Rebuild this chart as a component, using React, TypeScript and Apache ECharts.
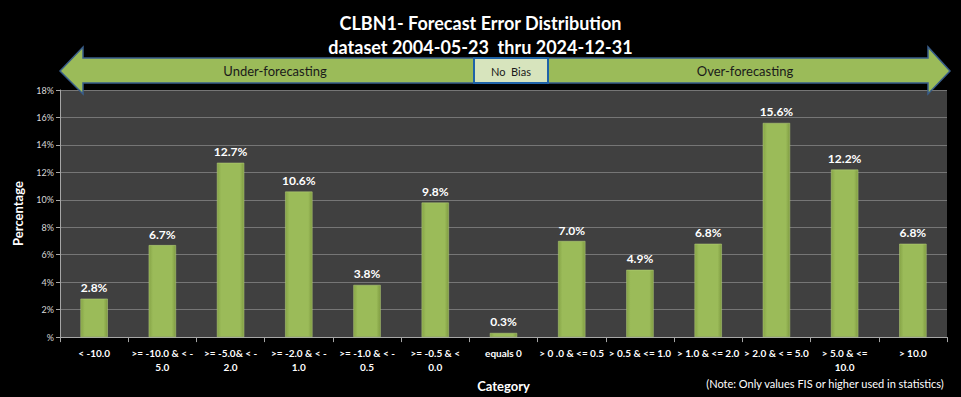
import React, { useEffect, useRef } from "react";
import * as echarts from "echarts";

const categories = [
  "< -10.0",
  ">= -10.0 & < -\n5.0",
  ">= -5.0& < -\n2.0",
  ">= -2.0 & < -\n1.0",
  ">= -1.0 & < -\n0.5",
  ">= -0.5 & <\n0.0",
  "equals 0",
  "> 0 .0 & <= 0.5",
  "> 0.5 & <= 1.0",
  "> 1.0 & <= 2.0",
  "> 2.0 & < = 5.0",
  "> 5.0 & <=\n10.0",
  "> 10.0",
];
const percentages = [2.8, 6.7, 12.7, 10.6, 3.8, 9.8, 0.3, 7.0, 4.9, 6.8, 15.6, 12.2, 6.8];
const titleLines = ["CLBN1- Forecast Error Distribution", "dataset 2004-05-23  thru 2024-12-31"];
const bandLabels = ["Under-forecasting", "No  Bias", "Over-forecasting"];
const noteText = "(Note: Only values FIS or higher used in statistics)";

const FONT = "Lato, 'Liberation Sans', Arial, sans-serif";

export default function App() {
  const ref = useRef<HTMLDivElement>(null);
  useEffect(() => {
    if (!ref.current) return;
    const chart = echarts.init(ref.current, undefined, { renderer: "svg" });
    chart.setOption({
      animation: false,
      backgroundColor: "#000000",
      title: {
        text: titleLines.join("\n"),
        left: "center",
        top: 11,
        padding: 0,
        textStyle: {
          color: "#ffffff",
          fontFamily: FONT,
          fontWeight: "bold",
          fontSize: 18,
          lineHeight: 24,
        },
      },
      grid: { left: 60, right: 14, top: 90, bottom: 57, backgroundColor: "#404040", show: true, borderWidth: 0 },
      xAxis: {
        type: "category",
        data: categories,
        name: "Category",
        nameLocation: "middle",
        nameGap: 38,
        nameTextStyle: { color: "#ffffff", fontFamily: FONT, fontWeight: "bold", fontSize: 13 },
        axisLine: { lineStyle: { color: "#a6a6a6" } },
        axisTick: { show: true, length: 5, lineStyle: { color: "#a6a6a6" } },
        axisLabel: {
          interval: 0,
          color: "#ffffff",
          fontFamily: FONT,
          fontWeight: "bold",
          fontSize: 10,
          lineHeight: 14,
          margin: 9,
        },
      },
      yAxis: {
        type: "value",
        min: 0,
        max: 18,
        interval: 2,
        name: "Percentage",
        nameLocation: "middle",
        nameRotate: 90,
        nameGap: 36,
        nameTextStyle: { color: "#ffffff", fontFamily: FONT, fontWeight: "bold", fontSize: 13 },
        axisLine: { show: true, lineStyle: { color: "#a6a6a6" } },
        axisTick: { show: true, length: 4, lineStyle: { color: "#a6a6a6" } },
        splitLine: { lineStyle: { color: "#767676", width: 1 } },
        axisLabel: {
          color: "#d9d9d9",
          fontFamily: FONT,
          fontSize: 9,
          margin: 6,
          formatter: (v: number) => (v === 0 ? "%" : v + "%"),
        },
      },
      series: [
        {
          type: "bar",
          data: percentages,
          barWidth: "40%",
          itemStyle: {
            color: new echarts.graphic.LinearGradient(0, 0, 1, 0, [
              { offset: 0, color: "#86a447" },
              { offset: 0.15, color: "#9bbb59" },
              { offset: 0.85, color: "#9bbb59" },
              { offset: 1, color: "#7f9b42" },
            ]),
            borderColor: "#b9d37f",
            borderWidth: 0.5,
          },
          label: {
            show: true,
            position: "top",
            distance: 5,
            color: "#ffffff",
            fontFamily: FONT,
            fontWeight: "bold",
            fontSize: 12,
            formatter: (p: any) => Number(p.value).toFixed(1) + "%",
          },
        },
      ],
      graphic: [
        {
          type: "polygon",
          z: 100,
          shape: {
            points: [
              [60, 71], [83, 47], [83, 58], [928, 58], [928, 47], [950, 71],
              [928, 94], [928, 83], [83, 83], [83, 94],
            ],
          },
          style: { fill: "#9bbb59", stroke: "#385d8a", lineWidth: 1.5 },
        },
        {
          type: "rect",
          z: 101,
          shape: { x: 474, y: 58, width: 74, height: 25 },
          style: { fill: "#d7e4bd", stroke: "#1f63a8", lineWidth: 2 },
        },
        {
          type: "text",
          z: 102,
          x: 275,
          y: 71,
          style: { text: bandLabels[0], fill: "#1a1a1a", font: "13px " + FONT, align: "center", verticalAlign: "middle" },
        },
        {
          type: "text",
          z: 102,
          x: 511,
          y: 71,
          style: { text: bandLabels[1], fill: "#1a1a1a", font: "11px " + FONT, align: "center", verticalAlign: "middle" },
        },
        {
          type: "text",
          z: 102,
          x: 745,
          y: 71,
          style: { text: bandLabels[2], fill: "#1a1a1a", font: "13px " + FONT, align: "center", verticalAlign: "middle" },
        },
        {
          type: "text",
          z: 102,
          x: 825,
          y: 383,
          style: { text: noteText, fill: "#ffffff", font: "11px " + FONT, align: "center", verticalAlign: "middle" },
        },
      ],
    });
    return () => chart.dispose();
  }, []);
  return <div ref={ref} style={{ width: 961, height: 397, position: "absolute", left: 0, top: 0 }} />;
}
